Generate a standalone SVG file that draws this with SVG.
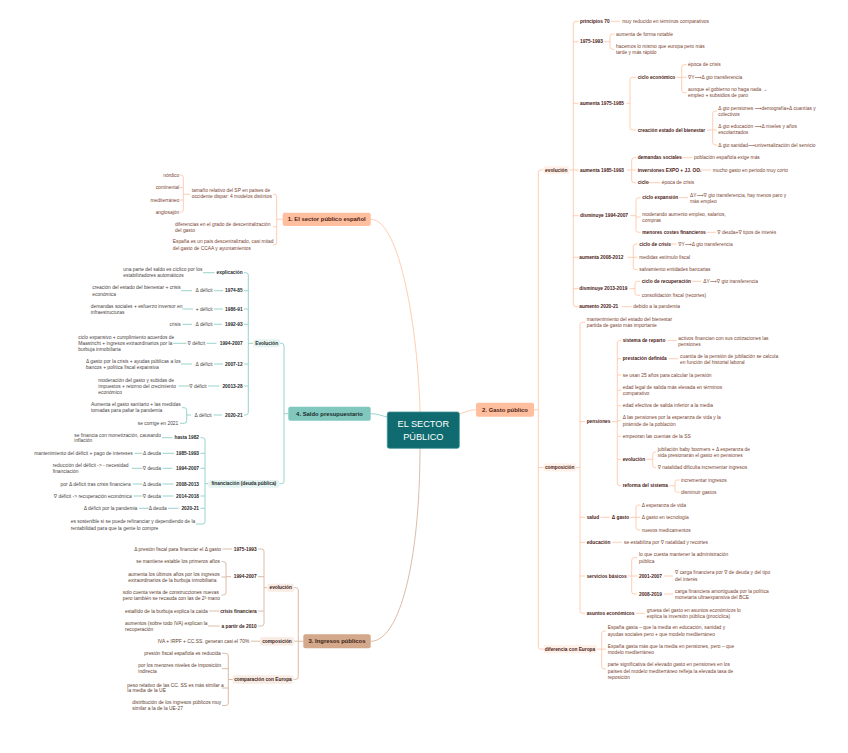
<svg xmlns="http://www.w3.org/2000/svg" width="848" height="753" viewBox="0 0 848 753">
<style>
.t{font-family:"Liberation Sans",Arial,"DejaVu Sans",sans-serif;font-size:4.9px;dominant-baseline:central}
.b{font-weight:700;font-size:4.8px}
.h{font-weight:700;font-size:5.9px}
.e{text-anchor:end}.m{text-anchor:middle}
.w2{fill:#7b3f30}.k2{fill:#4b2116}
.w4{fill:#4a4444}.k4{fill:#1f2b2b}
.w3{fill:#5e3d2e}.k3{fill:#3a2418}
.c1{fill:none;stroke:#ffc7aa;stroke-width:0.9}
.c4{fill:none;stroke:#8dcfc5;stroke-width:0.9}
.c3{fill:none;stroke:#d8b49c;stroke-width:0.9}
.p2{fill:#fff0e8}.p4{fill:#e6f4f1}.p3{fill:#f8ece4}
</style>
<rect width="848" height="753" fill="#ffffff"/>
<g id="connectors">
<path class="c1" d="M370.7,219.3 C400,219 418,330 420,412"/>
<path class="c1" d="M459.3,414 C466,412 470,409.7 476,409.7"/>
<path class="c4" d="M370.7,413.7 C378,413.7 382,416 387.3,417"/>
<path class="c3" d="M420,448 C420,560 400,641.3 370.7,641.3"/>
<path class="c1" d="M534,409.7 H538.3 M543.3,170 H540.8 Q538.3,170 538.3,172.5 V646.7 Q538.3,649.2 540.8,649.2 H543.3 M538.3,467.5 H543.3"/>
<path class="c1" d="M569.3,170 H573.3 M578.5,21.3 H575.8 Q573.3,21.3 573.3,23.8 V304.2 Q573.3,306.7 575.8,306.7 H578.5 M573.3,41.7 H578.5 M573.3,103.3 H578.5 M573.3,170 H578.5 M573.3,215.7 H578.5 M573.3,257.3 H578.5 M573.3,288.7 H578.5"/>
<path class="c1" d="M611,21.3 H620 M604,41.7 H610 M614.5,34 H612.5 Q610,34 610,36.5 V46.8 Q610,49.3 612.5,49.3 H614.5"/>
<path class="c1" d="M626.5,103.3 H630 M636,77.3 H632.5 Q630,77.3 630,79.8 V127.5 Q630,130 632.5,130 H636"/>
<path class="c1" d="M676.5,77.3 H686.5 M686.5,64.7 H684.2 Q681.7,64.7 681.7,67.2 V90.2 Q681.7,92.7 684.2,92.7 H686.5"/>
<path class="c1" d="M707,130 H717 M717,111 H715.2 Q712.7,111 712.7,113.5 V142.5 Q712.7,145 715.2,145 H717"/>
<path class="c1" d="M627,170 H636 M636,157.7 H634.2 Q631.7,157.7 631.7,160.2 V180.2 Q631.7,182.7 634.2,182.7 H636 M677.5,157.7 H692 M696.5,170 H711 M645.5,182.7 H660"/>
<path class="c1" d="M630.5,215.7 H636 M640.5,197.7 H638.5 Q636,197.7 636,200.2 V229.8 Q636,232.3 638.5,232.3 H640.5 M636,217 H640.5 M679,197.7 H688 M706.5,232.3 H715.5"/>
<path class="c1" d="M627.5,257.3 H637.5 M637.5,244 H635.8 Q633.3,244 633.3,246.5 V267.2 Q633.3,269.7 635.8,269.7 H637.5 M670.5,244 H676.5"/>
<path class="c1" d="M629.5,288.7 H635 M640,281.3 H637.5 Q635,281.3 635,283.8 V292.8 Q635,295.3 637.5,295.3 H640 M691.5,281.3 H701.5 M622,306.7 H631.5"/>
<path class="c1" d="M576,467.5 H580 M585,322.3 H582.5 Q580,322.3 580,324.8 V610.8 Q580,613.3 582.5,613.3 H585 M580,421.7 H585 M580,517.3 H585 M580,542.3 H585 M580,576 H585"/>
<path class="c1" d="M611.5,421.7 H617.3 M621,340.5 H619.8 Q617.3,340.5 617.3,343 V483.2 Q617.3,485.7 619.8,485.7 H621 M617.3,358.7 H621 M617.3,375 H621 M617.3,390.2 H621 M617.3,405.7 H621 M617.3,420.8 H621 M617.3,436.3 H621 M617.3,459.3 H621 M667.5,340.5 H676.5 M668.5,358.7 H678"/>
<path class="c1" d="M646.5,459.3 H652.7 M656,452 H655.2 Q652.7,452 652.7,454.5 V465.2 Q652.7,467.7 655.2,467.7 H656"/>
<path class="c1" d="M669.5,485.7 H675 M679.5,480 H677.5 Q675,480 675,482.5 V489.8 Q675,492.3 677.5,492.3 H679.5"/>
<path class="c1" d="M600.5,517.3 H610 M630.5,517.3 H640 M640,505 H638.5 Q636,505 636,507.5 V527.5 Q636,530 638.5,530 H640 M612.5,542.3 H622"/>
<path class="c1" d="M627.5,576 H637 M637,557.7 H634.2 Q631.7,557.7 631.7,560.2 V591.5 Q631.7,594 634.2,594 H637 M664,576 H673 M664,594 H673 M635.5,613.3 H645"/>
<path class="c1" d="M596.7,649.2 H606 M606,631 H604.2 Q601.7,631 601.7,633.5 V666.5 Q601.7,669 604.2,669 H606"/>
<path class="c1" d="M282.7,219.3 H276.7 M273,194.3 H274.2 Q276.7,194.3 276.7,196.8 V242.5 Q276.7,245 274.2,245 H273 M276.7,226.7 H273"/>
<path class="c1" d="M190,194.3 H183.3 M180,175 H180.8 Q183.3,175 183.3,177.5 V209.8 Q183.3,212.3 180.8,212.3 H180 M183.3,187.7 H180 M183.3,200 H180"/>
<path class="c4" d="M288.3,413.7 H284 M280,343.3 H281.5 Q284,343.3 284,345.8 V481.2 Q284,483.7 281.5,483.7 H279.3"/>
<path class="c4" d="M253.3,343.3 H248.3 M244,272.7 H245.8 Q248.3,272.7 248.3,275.2 V412.5 Q248.3,415 245.8,415 H244 M248.3,290.7 H244 M248.3,309 H244 M248.3,324.3 H244 M248.3,364 H244 M248.3,386 H244"/>
<path class="c4" d="M214.5,272.7 H203 M223,290.7 H214 M192,290.7 H181 M223,309 H214 M193,309 H182.5 M222,324.3 H214 M192,324.3 H182.5 M216.5,343.3 H206.5 M186.5,343.3 H173 M223,364 H214 M192,364 H181 M219.5,386 H208 M189.5,386 H178.5"/>
<path class="c4" d="M222,415 H213.5 M191,415 H186.7 M182,407.7 H184.2 Q186.7,407.7 186.7,410.2 V420.8 Q186.7,423.3 184.2,423.3 H180"/>
<path class="c4" d="M208.3,483.7 H205 M200.5,437.7 H202.5 Q205,437.7 205,440.2 V521.5 Q205,524 202.5,524 H196 M205,453.3 H200.5 M205,468.3 H200.5 M205,496 H200.5 M205,508.3 H200.5"/>
<path class="c4" d="M172.5,437.7 H162 M174,453.3 H162.5 M142.5,453.3 H134.5 M172.5,468.3 H162.5 M142.5,468.3 H132 M173.5,484 H162.5 M142.5,484 H132.5 M173.5,496 H162.5 M142.5,496 H133.5 M178.5,508.3 H168 M148.5,508.3 H139"/>
<path class="c3" d="M303.3,641.3 H298.3 M294,587.7 H295.8 Q298.3,587.7 298.3,590.2 V676.8 Q298.3,679.3 295.8,679.3 H293.3 M298.3,641.2 H294"/>
<path class="c3" d="M267.3,587.7 H264 M258,549 H261.5 Q264,549 264,551.5 V623.5 Q264,626 261.5,626 H258 M264,576.7 H258 M264,611 H258 M232,549 H222.5"/>
<path class="c3" d="M231,576.7 H226 M221.5,561.7 H223.5 Q226,561.7 226,564.2 V592.5 Q226,595 223.5,595 H221.5 M226,577 H221.5 M219.5,611 H209 M219.5,626 H208 M260,641.2 H251"/>
<path class="c3" d="M232.7,679.5 H228.3 M222,653.3 H225.8 Q228.3,653.3 228.3,655.8 V703 Q228.3,705.5 225.8,705.5 H222 M228.3,668.7 H222 M228.3,688 H222"/>
</g>
<g id="central"><rect x="387.3" y="412" width="72" height="36.3" rx="2" fill="#0f6b6f" stroke="#3d9296" stroke-width="0.8"/><text class="t m" x="423.3" y="424" fill="#ffffff" style="font-size:9.2px">EL SECTOR</text><text class="t m" x="423.3" y="437" fill="#ffffff" style="font-size:9.2px">PÚBLICO</text></g>
<g id="n1"><rect x="282.7" y="212.7" width="88" height="13.3" rx="2" fill="#ffbe9d"/><text class="t h m k2" x="326.7" y="219.4">1. El sector público español</text></g>
<g id="n2"><rect x="476" y="402.7" width="58" height="14" rx="2" fill="#ffbe9d"/><text class="t h m k2" x="505" y="409.7">2. Gasto público</text></g>
<g id="n4"><rect x="288.3" y="406.7" width="82.4" height="14" rx="2" fill="#80c7bd"/><text class="t h m k4" x="329.5" y="413.7">4. Saldo presupuestario</text></g>
<g id="n3"><rect x="303.3" y="634.3" width="67.4" height="14" rx="2" fill="#d4a88a"/><text class="t h m k3" x="337" y="641.3">3. Ingresos públicos</text></g>
<g id="b1">
<text class="t w2" x="191.7" y="190.7">tamaño relativo del SP en países de</text><text class="t w2" x="191.7" y="196.7">occidente dispar: 4 modelos distintos</text>
<text class="t w2 e" x="179.3" y="175">nórdico</text><text class="t w2 e" x="179.3" y="187.7">continental</text><text class="t w2 e" x="179.3" y="200">mediterráneo</text><text class="t w2 e" x="179.3" y="212.3">anglosajón</text>
<text class="t w2" x="175" y="224">diferencias en el grado de descentralización</text><text class="t w2" x="175" y="230">del gasto</text>
<text class="t w2" x="172.7" y="241.7">España es un país descentralizado, casi mitad</text><text class="t w2" x="172.7" y="248">del gasto de CCAA y ayuntamientos</text>
</g>
<g id="b2">
<g id="evolucion2"><rect class="p2" x="543.3" y="166.3" width="26" height="7.6" rx="2"/><text class="t b m k2" x="556.3" y="170.1">evolución</text></g>
<g id="composicion2"><rect class="p2" x="543.3" y="463.5" width="32.7" height="8" rx="2"/><text class="t b m k2" x="559.7" y="467.5">composición</text></g>
<g id="europa2"><rect class="p2" x="543.3" y="645" width="53.4" height="8.3" rx="2"/><text class="t b m k2" x="570" y="649.2">diferencia con Europa</text></g>
<text class="t b k2" x="580" y="21.3">principios 70</text><text class="t w2" x="622.3" y="21.3">muy reducido en términos comparativos</text>
<text class="t b k2" x="580" y="41.7">1975-1993</text><text class="t w2" x="616" y="34">aumenta de forma notable</text><text class="t w2" x="616" y="46.3">hacemos lo mismo que europa pero más</text><text class="t w2" x="616" y="52.3">tarde y más rápido</text>
<text class="t b k2" x="580" y="103.3">aumenta 1975-1985</text>
<text class="t b k2" x="637.7" y="77.3">ciclo económico</text>
<text class="t w2" x="688" y="64.7">época de crisis</text><text class="t w2" x="688" y="77.3">∇Y⟶Δ gto transferencia</text><text class="t w2" x="688" y="89.3">aunque el gobierno no haga nada →</text><text class="t w2" x="688" y="95.7">empleo + subsidios de paro</text>
<text class="t b k2" x="637.7" y="130">creación estado del bienestar</text>
<text class="t w2" x="718.3" y="108.3">Δ gto pensiones ⟶demografía+Δ cuantías y</text><text class="t w2" x="718.3" y="114">colectivos</text>
<text class="t w2" x="718.3" y="126.7">Δ gto educación ⟶Δ niveles y años</text><text class="t w2" x="718.3" y="132.4">escolarizados</text>
<text class="t w2" x="718.3" y="145">Δ gto sanidad⟶universalización del servicio</text>
<text class="t b k2" x="580" y="170">aumenta 1985-1993</text>
<text class="t b k2" x="637.7" y="157.7">demandas sociales</text><text class="t w2" x="694" y="157.7">población española exige más</text>
<text class="t b k2" x="637.7" y="170">inversiones EXPO + JJ. OO.</text><text class="t w2" x="712.7" y="170">mucho gasto en periodo muy corto</text>
<text class="t b k2" x="637.7" y="182.7">ciclo</text><text class="t w2" x="661.7" y="182.7">época de crisis</text>
<text class="t b k2" x="580" y="215.7">disminuye 1994-2007</text>
<text class="t b k2" x="642.3" y="197.7">ciclo expansión</text><text class="t w2" x="690" y="195.7">ΔY⟶∇ gto transferencia, hay menos paro y</text><text class="t w2" x="690" y="201.4">más empleo</text>
<text class="t w2" x="642.3" y="214.3">moderando aumento empleo, salarios,</text><text class="t w2" x="642.3" y="220">compras</text>
<text class="t b k2" x="642.3" y="232.3">menores costes financieros</text><text class="t w2" x="717.3" y="232.3">∇ deuda+∇ tipos de interés</text>
<text class="t b k2" x="579.3" y="257.3">aumenta 2008-2012</text>
<text class="t b k2" x="639.3" y="244">ciclo de crisis</text><text class="t w2" x="678.3" y="244">∇Y⟶Δ gto transferencia</text>
<text class="t w2" x="639.3" y="257.3">medidas estímulo fiscal</text><text class="t w2" x="639.3" y="269.7">salvamiento entidades bancarias</text>
<text class="t b k2" x="579.3" y="288.7">disminuye 2013-2019</text>
<text class="t b k2" x="641.7" y="281.3">ciclo de recuperación</text><text class="t w2" x="703.3" y="281.3">ΔY⟶∇ gto transferencia</text>
<text class="t w2" x="641.7" y="295.3">consolidación fiscal (recortes)</text>
<text class="t b k2" x="579.3" y="306.7">aumento 2020-21</text><text class="t w2" x="633.3" y="306.7">debido a la pandemia</text>
<text class="t w2" x="586.7" y="319.3">mantenimiento del estado del bienestar</text><text class="t w2" x="586.7" y="325.3">partida de gasto más importante</text>
<text class="t b k2" x="586.7" y="421.7">pensiones</text>
<text class="t b k2" x="622.7" y="340.5">sistema de reparto</text><text class="t w2" x="678.3" y="338.3">activos financian con sus cotizaciones las</text><text class="t w2" x="678.3" y="344.3">pensiones</text>
<text class="t b k2" x="622.7" y="358.7">prestación definida</text><text class="t w2" x="680" y="356.7">cuantía de la pensión de jubilación se calcula</text><text class="t w2" x="680" y="362.4">en función del historial laboral</text>
<text class="t w2" x="622.7" y="375">se usan 25 años para calcular la pensión</text>
<text class="t w2" x="622.7" y="387.3">edad legal de salida más elevada en términos</text><text class="t w2" x="622.7" y="393">comparativo</text>
<text class="t w2" x="622.7" y="405.7">edad efectiva de salida inferior a la media</text>
<text class="t w2" x="622.7" y="417.7">Δ las pensiones por la esperanza de vida y la</text><text class="t w2" x="622.7" y="424">pirámide de la población</text>
<text class="t w2" x="622.7" y="436.3">empeoran las cuentas de la SS</text>
<text class="t b k2" x="622.7" y="459.3">evolución</text>
<text class="t w2" x="657.7" y="449">jubilación baby boomers + Δ esperanza de</text><text class="t w2" x="657.7" y="455">vida presionarán el gasto en pensiones</text>
<text class="t w2" x="657.7" y="467.7">∇ natalidad dificulta incrementar ingresos</text>
<text class="t b k2" x="622.7" y="485.7">reforma del sistema</text>
<text class="t w2" x="681" y="480">incrementar ingresos</text><text class="t w2" x="681" y="492.3">disminuir gastos</text>
<text class="t b k2" x="586.7" y="517.3">salud</text><text class="t b k2" x="611.7" y="517.3">Δ gasto</text>
<text class="t w2" x="641.7" y="505">Δ esperanza de vida</text><text class="t w2" x="641.7" y="517.3">Δ gasto en tecnología</text><text class="t w2" x="641.7" y="530">nuevos medicamentos</text>
<text class="t b k2" x="586.7" y="542.3">educación</text><text class="t w2" x="624" y="542.3">se estabiliza por ∇ natalidad y recortes</text>
<text class="t b k2" x="586.7" y="576">servicios básicos</text>
<text class="t w2" x="639" y="554.3">lo que cuesta mantener la administración</text><text class="t w2" x="639" y="561">pública</text>
<text class="t b k2" x="639" y="576">2001-2007</text><text class="t w2" x="675" y="572.7">∇ carga financiera por ∇ de deuda y del tipo</text><text class="t w2" x="675" y="579.3">del interés</text>
<text class="t b k2" x="639" y="594">2008-2019</text><text class="t w2" x="675" y="591.7">carga financiera amortiguada por la política</text><text class="t w2" x="675" y="597.7">monetaria ultraexpansiva del BCE</text>
<text class="t b k2" x="586.7" y="613.3">asuntos económicos</text><text class="t w2" x="646.7" y="610">gruesa del gasto en asuntos económicos lo</text><text class="t w2" x="646.7" y="616">explica la inversión pública (procíclica)</text>
<text class="t w2" x="607.7" y="627.7">España gasta – que la media en educación, sanidad y</text><text class="t w2" x="607.7" y="634.3">ayudas sociales pero + que modelo mediterráneo</text>
<text class="t w2" x="607.7" y="646">España gasta más que la media en pensiones, pero – que</text><text class="t w2" x="607.7" y="652.7">modelo mediterráneo</text>
<text class="t w2" x="607.7" y="664.3">parte significativa del elevado gasto en pensiones en los</text><text class="t w2" x="607.7" y="671">países del modelo mediterráneo refleja la elevada tasa de</text><text class="t w2" x="607.7" y="677">reposición</text>
</g>
<g id="b4">
<g id="evolucion4"><rect class="p4" x="253.3" y="339.3" width="26.7" height="8" rx="2"/><text class="t b m k4" x="266.7" y="343.3">Evolución</text></g>
<g id="financiacion4"><rect class="p4" x="208.3" y="480" width="71" height="7.7" rx="2"/><text class="t b m k4" x="243.8" y="483.8">financiación (deuda pública)</text></g>
<text class="t b e k4" x="242.7" y="272.7">explicación</text><text class="t w4" x="123.3" y="269.3">una parte del saldo es cíclico por los</text><text class="t w4" x="123.3" y="275">estabilizadores automáticos</text>
<text class="t b e k4" x="242.7" y="290.7">1974-85</text><text class="t w4 e" x="212.7" y="290.7">Δ déficit</text><text class="t w4" x="92.3" y="287.7">creación del estado del bienestar + crisis</text><text class="t w4" x="92.3" y="294">económica</text>
<text class="t b e k4" x="242.7" y="309">1986-91</text><text class="t w4 e" x="212.7" y="309">+ déficit</text><text class="t w4" x="90.7" y="306">demandas sociales + esfuerzo inversor en</text><text class="t w4" x="90.7" y="312.3">infraestructuras</text>
<text class="t b e k4" x="242.7" y="324.3">1992-93</text><text class="t w4 e" x="212.7" y="324.3">Δ déficit</text><text class="t w4 e" x="180.7" y="324.3">crisis</text>
<text class="t b e k4" x="242.7" y="343.3">1994-2007</text><text class="t w4 e" x="205" y="343.3">∇ déficit</text><text class="t w4" x="78.3" y="337.3">ciclo expansivo + cumplimiento acuerdos de</text><text class="t w4" x="78.3" y="343.3">Maastricht + ingresos extraordinarios por la</text><text class="t w4" x="78.3" y="349.3">burbuja inmobiliaria</text>
<text class="t b e k4" x="242.7" y="364">2007-12</text><text class="t w4 e" x="212.7" y="364">Δ déficit</text><text class="t w4" x="86" y="361.7">Δ gasto por la crisis + ayudas públicas a los</text><text class="t w4" x="86" y="367.7">bancos + política fiscal expansiva</text>
<text class="t b e k4" x="242.7" y="386">20013-28</text><text class="t w4 e" x="206.7" y="386">∇ déficit</text><text class="t w4" x="98.3" y="380">moderación del gasto y subidas de</text><text class="t w4" x="98.3" y="386">impuestos + retorno del crecimiento</text><text class="t w4" x="98.3" y="392.3">económico</text>
<text class="t b e k4" x="242.7" y="415">2020-21</text><text class="t w4 e" x="211.7" y="415">Δ déficit</text><text class="t w4" x="91" y="404.3">Aumenta el gasto sanitario + las medidas</text><text class="t w4" x="91" y="410.3">tomadas para paliar la pandemia</text><text class="t w4 e" x="178.3" y="423.3">se corrige en 2021</text>
<text class="t b e k4" x="199" y="437.7">hasta 1982</text><text class="t w4" x="74.3" y="435">se financia con monetización, causando</text><text class="t w4" x="74.3" y="440.7">inflación</text>
<text class="t b e k4" x="199" y="453.3">1985-1993</text><text class="t w4 e" x="161" y="453.3">Δ deuda</text><text class="t w4 e" x="132.7" y="453.3">mantenimiento del déficit + pago de intereses</text>
<text class="t b e k4" x="199" y="468.3">1994-2007</text><text class="t w4 e" x="161" y="468.3">∇ deuda</text><text class="t w4" x="52.7" y="465.7">reducción del déficit -&gt; - necesidad</text><text class="t w4" x="52.7" y="471.7">financiación</text>
<text class="t b e k4" x="199" y="484">2008-2013</text><text class="t w4 e" x="161" y="484">Δ deuda</text><text class="t w4 e" x="130.7" y="484">por Δ déficit tras crisis financiera</text>
<text class="t b e k4" x="199" y="496">2014-2018</text><text class="t w4 e" x="161" y="496">∇ deuda</text><text class="t w4 e" x="131.7" y="496">∇ déficit -&gt; recuperación económica</text>
<text class="t b e k4" x="199" y="508.3">2020-21</text><text class="t w4 e" x="166.7" y="508.3">Δ deuda</text><text class="t w4 e" x="137.3" y="508.3">Δ déficit por la pandemia</text>
<text class="t w4" x="70.7" y="521.7">es sostenible si se puede refinanciar y dependiendo de la</text><text class="t w4" x="70.7" y="528.3">rentabilidad para que la gente lo compre</text>
</g>
<g id="b3">
<g id="evolucion3"><rect class="p3" x="267.3" y="583.7" width="26.7" height="8" rx="2"/><text class="t b m k3" x="280.7" y="587.7">evolución</text></g>
<g id="composicion3"><rect class="p3" x="260" y="637" width="34" height="8.4" rx="2"/><text class="t b m k3" x="277" y="641.2">composición</text></g>
<g id="comparacion3"><rect class="p3" x="232.7" y="675.3" width="60.6" height="8.4" rx="2"/><text class="t b m k3" x="263" y="679.5">comparación con Europa</text></g>
<text class="t b e k3" x="256.7" y="549">1975-1993</text><text class="t w3 e" x="221" y="549">Δ presión fiscal para financiar el Δ gasto</text>
<text class="t b e k3" x="256.7" y="576.7">1994-2007</text><text class="t w3 e" x="220" y="561.7">se mantiene estable los primeros años</text>
<text class="t w3" x="128.3" y="574">aumenta los últimos años por los ingresos</text><text class="t w3" x="128.3" y="580">extraordinarios de la burbuja inmobiliaria</text>
<text class="t w3" x="122.7" y="592.3">solo cuenta venta de construcciones nuevas</text><text class="t w3" x="122.7" y="598.3">pero también se recauda con las de 2ª mano</text>
<text class="t b e k3" x="256.7" y="611">crisis financiera</text><text class="t w3 e" x="207.7" y="611">estallido de la burbuja explica la caída</text>
<text class="t b e k3" x="256.7" y="626">a partir de 2010</text><text class="t w3" x="125" y="623.7">aumentos (sobre todo IVA) explican la</text><text class="t w3" x="125" y="629.3">recuperación</text>
<text class="t w3 e" x="249.3" y="641.2">IVA + IRPF + CC.SS. generan casi el 70%</text>
<text class="t w3 e" x="220.7" y="653.3">presión fiscal española es reducida</text>
<text class="t w3" x="138.3" y="665.7">por los menores niveles de imposición</text><text class="t w3" x="138.3" y="671.7">indirecta</text>
<text class="t w3" x="127.3" y="685">peso relativo de las CC. SS es más similar a</text><text class="t w3" x="127.3" y="690.7">la media de la UE</text>
<text class="t w3" x="132.3" y="702.7">distribución de los ingresos públicos muy</text><text class="t w3" x="132.3" y="708.3">similar a la de la UE-27</text>
</g>
</svg>
